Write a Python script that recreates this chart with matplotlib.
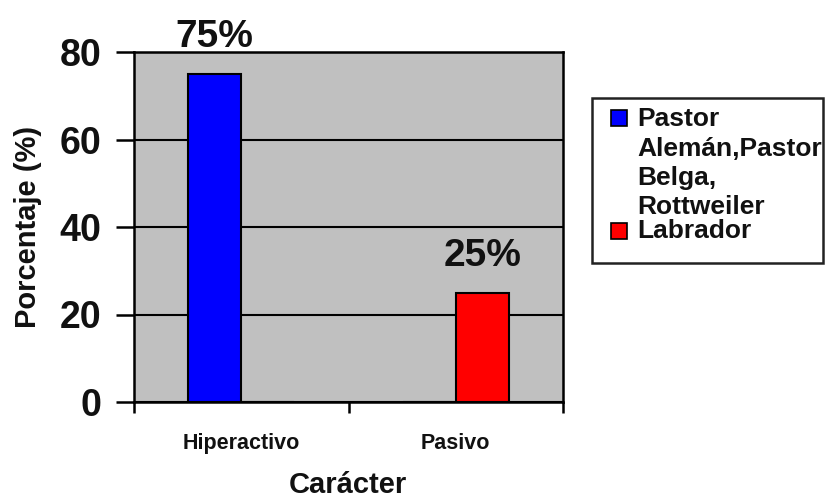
import matplotlib
matplotlib.use("Agg")
import matplotlib.pyplot as plt
from matplotlib.patches import Rectangle
import numpy as np

# ---- data ----
categories = ["Hiperactivo", "Pasivo"]
series_names = ["Pastor\nAlemán,Pastor\nBelga,\nRottweiler", "Labrador"]
series_values = [[75, 0], [0, 25]]
series_colors = ["#0000FF", "#FF0000"]
yticks = [0, 20, 40, 60, 80]
ylabel = "Porcentaje (%)"
xlabel = "Carácter"

plt.rcParams['font.family'] = ['Liberation Sans', 'DejaVu Sans']
plt.rcParams['font.weight'] = 'bold'
TXT = '#111111'

W, H = 825, 499
fig = plt.figure(figsize=(W / 100, H / 100), dpi=100)
fig.patch.set_facecolor('white')

def fx(px):
    return px / W

def fy(py):
    return 1 - py / H

ax = fig.add_axes([fx(134), fy(402), fx(563) - fx(134), fy(52) - fy(402)])
ax.set_facecolor('#C0C0C0')

x = np.arange(len(categories))
width = 0.247
n = len(series_values)
for i, (vals, col) in enumerate(zip(series_values, series_colors)):
    pos = x + (i - (n - 1) / 2) * width
    ax.bar(pos, vals, width, color=col, edgecolor='black', linewidth=1.5, zorder=3)
    for p, v in zip(pos, vals):
        if v > 0:
            ax.annotate(f"{v}%", xy=(p, v), xytext=(0, 19), textcoords='offset points',
                        ha='center', va='baseline', fontsize=28, fontweight='bold',
                        color=TXT, annotation_clip=False)

ax.set_xlim(-0.5, len(categories) - 0.5)
ax.set_ylim(0, 80)
ax.set_yticks(yticks)
ax.set_yticklabels([str(t) for t in yticks], fontsize=27, fontweight='bold', color=TXT)
ax.yaxis.grid(True, color='black', linewidth=1.5, zorder=1)
ax.set_axisbelow(True)

ax.set_xticks(x)
ax.set_xticklabels(categories, fontsize=15.5, fontweight='bold', color=TXT)
ax.set_xticks(np.arange(len(categories) + 1) - 0.5, minor=True)
ax.tick_params(axis='x', which='major', length=0, pad=22)
ax.tick_params(axis='x', which='minor', length=8, width=1.8, direction='out')
ax.tick_params(axis='y', which='major', length=13, width=1.8, direction='out', pad=10.5)

for s in ax.spines.values():
    s.set_color('black')
    s.set_linewidth(1.8)

fig.text(fx(28), fy(227), ylabel, rotation=90, ha='center', va='center',
         fontsize=21, fontweight='bold', color=TXT)
fig.text(fx(348), fy(493), xlabel, ha='center', va='baseline',
         fontsize=21, fontweight='bold', color=TXT)

# ---- legend (drawn manually so marker aligns with first line) ----
fig.patches.append(Rectangle((fx(592), fy(263)), fx(823) - fx(592), fy(98) - fy(263),
                             transform=fig.transFigure, facecolor='white',
                             edgecolor='#222222', linewidth=1.8))
line_h = 29.5
baseline = 126
for name, col in zip(series_names, series_colors):
    lines = name.split("\n")
    fig.patches.append(Rectangle((fx(611), fy(baseline)), fx(16), 16 / H,
                                 transform=fig.transFigure, facecolor=col,
                                 edgecolor='black', linewidth=1.2))
    for ln in lines:
        fig.text(fx(637), fy(baseline), ln, ha='left', va='baseline',
                 fontsize=19, fontweight='bold', color=TXT)
        baseline += line_h
    baseline -= line_h
    baseline += 24

fig.savefig("out.png", dpi=100, facecolor='white')
